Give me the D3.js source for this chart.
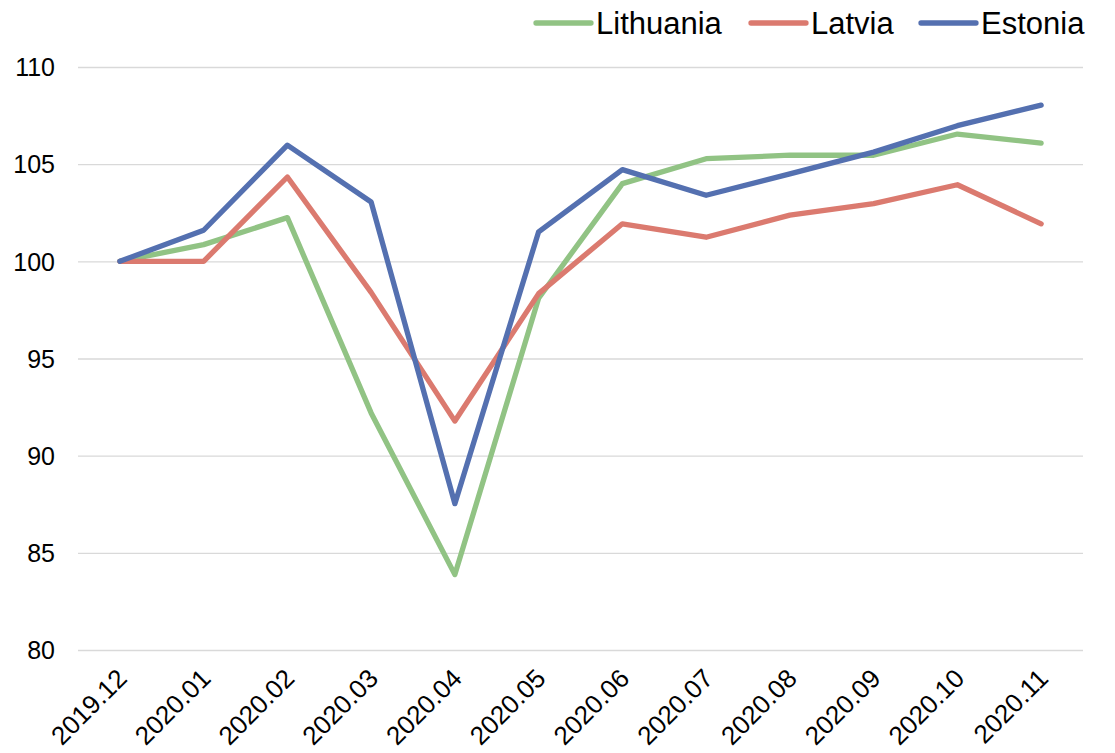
<!DOCTYPE html>
<html>
<head>
<meta charset="utf-8">
<script src="https://cdn.jsdelivr.net/npm/d3@7"></script>
<style>
  body { margin: 0; background: #fff; }
  text { font-family: Arial, "Liberation Sans", sans-serif; fill: #000; }
</style>
</head>
<body>
<svg id="chart" width="1115" height="753"></svg>
<script>
// months on the x axis
let months = ["2019.12", "2020.01", "2020.02", "2020.03", "2020.04", "2020.05",
  "2020.06", "2020.07", "2020.08", "2020.09", "2020.10", "2020.11"]

let lithuania = [100, 100.86, 102.25, 92.2, 83.88, 98.1, 104.0, 105.28, 105.46, 105.46, 106.55, 106.08]
let latvia = [100, 100, 104.34, 98.4, 91.78, 98.34, 101.93, 101.24, 102.38, 102.97, 103.94, 101.93]
let estonia = [100, 101.6, 105.98, 103.05, 87.53, 101.52, 104.72, 103.4, 104.5, 105.62, 106.98, 108.04]

let yTicks = [80, 85, 90, 95, 100, 105, 110]

let seriesNames = ["Lithuania", "Latvia", "Estonia"]
let seriesColors = ["#91C384", "#DB7A6F", "#5470B0"]

let svg = d3.select("#chart")

let x = d3.scalePoint().domain(months).range([78, 1083]).padding(0.5)
let y = d3.scaleLinear().domain([80, 110]).range([650, 67])

// gridlines
let yAxis = d3.axisLeft(y).tickValues(yTicks).tickSize(-(1083 - 78)).tickPadding(23)
let gy = svg.append("g").attr("transform", "translate(78,0)").call(yAxis)
gy.select(".domain").remove()
gy.selectAll(".tick line").attr("stroke", "#d9d9d9").attr("stroke-width", 1.3)
gy.selectAll(".tick text").style("font-size", "25px").attr("dy", "0.35em")

// x labels, rotated
let xAxis = d3.axisBottom(x).tickSize(0).tickPadding(0)
let gx = svg.append("g").attr("transform", "translate(0,650)").call(xAxis)
gx.select(".domain").remove()
gx.selectAll(".tick text")
  .style("font-size", "26px")
  .attr("text-anchor", "end")
  .attr("y", 0)
  .attr("dy", 0)
  .attr("transform", "translate(8,30) rotate(-45)")

// lines
let line = d3.line().x((d, i) => x(months[i])).y(d => y(d))
let allSeries = [lithuania, latvia, estonia]
for (let i = 0; i < allSeries.length; i++) {
  svg.append("path")
    .datum(allSeries[i])
    .attr("d", line)
    .attr("fill", "none")
    .attr("stroke", seriesColors[i])
    .attr("stroke-width", 5.3)
    .attr("stroke-linejoin", "round")
    .attr("stroke-linecap", "round")
}

// legend
let legendX = [536, 751, 921]
for (let i = 0; i < seriesNames.length; i++) {
  let g = svg.append("g").attr("transform", "translate(" + legendX[i] + ",23)")
  g.append("line").attr("x1", 0).attr("x2", 55).attr("y1", 0).attr("y2", 0)
    .attr("stroke", seriesColors[i]).attr("stroke-width", 5.3).attr("stroke-linecap", "round")
  g.append("text").attr("x", 60).attr("y", 11).style("font-size", "31px").text(seriesNames[i])
}
</script>
</body>
</html>
